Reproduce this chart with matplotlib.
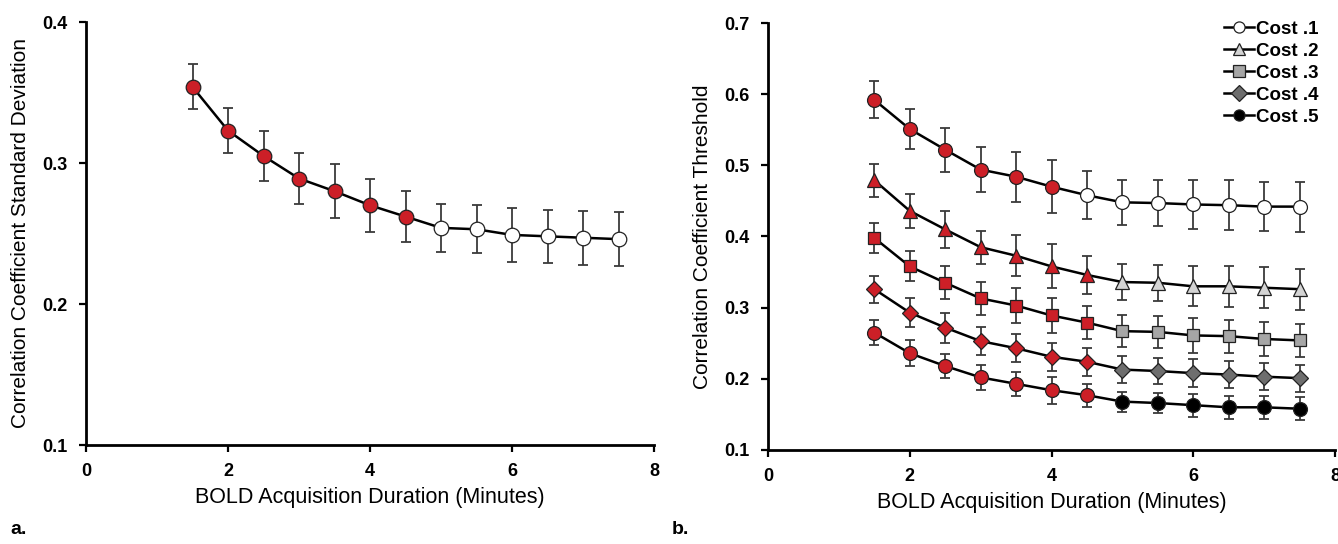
import numpy as np
import matplotlib
matplotlib.use("Agg")
import matplotlib.pyplot as plt
from matplotlib.lines import Line2D

plt.rcParams['font.family'] = ['Liberation Sans', 'DejaVu Sans']

# BOLD acquisition duration (minutes)
minutes = [1.5, 2, 2.5, 3, 3.5, 4, 4.5, 5, 5.5, 6, 6.5, 7, 7.5]

# panel a: standard deviation of correlation coefficient
sd_mean = [0.354, 0.323, 0.305, 0.289, 0.280, 0.270, 0.262, 0.254, 0.253, 0.249, 0.248, 0.247, 0.246]
sd_err = [0.016, 0.016, 0.018, 0.018, 0.019, 0.019, 0.018, 0.017, 0.017, 0.019, 0.019, 0.019, 0.019]
sd_nred = 7

# panel b: correlation coefficient threshold per cost
cost_names = ['Cost .1', 'Cost .2', 'Cost .3', 'Cost .4', 'Cost .5']
cost1 = [0.592, 0.551, 0.522, 0.494, 0.484, 0.470, 0.458, 0.448, 0.447, 0.445, 0.444, 0.442, 0.442]
cost1_err = [0.026, 0.028, 0.031, 0.032, 0.035, 0.037, 0.034, 0.032, 0.032, 0.034, 0.035, 0.034, 0.035]
cost2 = [0.479, 0.436, 0.410, 0.385, 0.373, 0.358, 0.346, 0.336, 0.335, 0.330, 0.330, 0.328, 0.326]
cost2_err = [0.023, 0.024, 0.026, 0.023, 0.029, 0.031, 0.027, 0.025, 0.025, 0.028, 0.029, 0.029, 0.029]
cost3 = [0.398, 0.358, 0.335, 0.313, 0.303, 0.289, 0.279, 0.267, 0.266, 0.261, 0.260, 0.256, 0.254]
cost3_err = [0.021, 0.021, 0.023, 0.023, 0.025, 0.025, 0.023, 0.022, 0.022, 0.024, 0.023, 0.024, 0.023]
cost4 = [0.326, 0.293, 0.272, 0.253, 0.243, 0.231, 0.224, 0.213, 0.211, 0.208, 0.206, 0.203, 0.201]
cost4_err = [0.019, 0.020, 0.021, 0.020, 0.020, 0.020, 0.020, 0.019, 0.018, 0.020, 0.019, 0.019, 0.019]
cost5 = [0.265, 0.236, 0.218, 0.202, 0.193, 0.184, 0.177, 0.168, 0.166, 0.163, 0.160, 0.160, 0.158]
cost5_err = [0.017, 0.018, 0.017, 0.017, 0.017, 0.019, 0.016, 0.014, 0.014, 0.016, 0.016, 0.016, 0.016]
cost_means = [cost1, cost2, cost3, cost4, cost5]
cost_errs = [cost1_err, cost2_err, cost3_err, cost4_err, cost5_err]
cost_nred = [6, 7, 7, 7, 7]

cost_markers = ['o', '^', 's', 'D', 'o']
cost_faces = ['white', '#d4d4d4', '#a6a6a6', '#6e6e6e', 'black']
cost_msize = [10, 10, 9, 8, 10]
red = '#cc1f27'

fig = plt.figure(figsize=(13.38, 5.44), dpi=100)
ax1 = fig.add_axes([86 / 1338, 1 - 445 / 544, (654 - 86) / 1338, (445 - 22) / 544])
ax2 = fig.add_axes([768 / 1338, 1 - 450 / 544, (1335 - 768) / 1338, (450 - 23) / 544])


def draw_series(ax, y, err, nred, marker, face, ms):
    x = np.array(minutes)
    y = np.array(y)
    ax.errorbar(x, y, yerr=err, fmt='none', ecolor='#3a3a3a', elinewidth=1.3,
                capsize=3.5, capthick=1.3, zorder=2)
    ax.plot(x, y, color='black', lw=1.8, zorder=3)
    ax.plot(x[:nred], y[:nred], ls='none', marker=marker, ms=ms, mfc=red,
            mec='#222222', mew=0.9, zorder=4)
    ax.plot(x[nred:], y[nred:], ls='none', marker=marker, ms=ms, mfc=face,
            mec='#222222', mew=0.9, zorder=4)


draw_series(ax1, sd_mean, sd_err, sd_nred, 'o', 'white', 10.5)
for i in range(len(cost_names)):
    draw_series(ax2, cost_means[i], cost_errs[i], cost_nred[i], cost_markers[i],
                cost_faces[i], cost_msize[i])

for ax in (ax1, ax2):
    ax.set_xlim(0, 8)
    ax.set_xticks([0, 2, 4, 6, 8])
    for s in ('top', 'right'):
        ax.spines[s].set_visible(False)
    for s in ('left', 'bottom'):
        ax.spines[s].set_linewidth(2)
    ax.tick_params(direction='out', length=5, width=1.6, labelsize=13, pad=8)
    for lab in ax.get_xticklabels() + ax.get_yticklabels():
        lab.set_fontweight('bold')
    ax.set_xlabel('BOLD Acquisition Duration (Minutes)', fontsize=15.5, labelpad=5)

ax1.set_ylim(0.1, 0.4)
ax1.set_yticks([0.1, 0.2, 0.3, 0.4])
ax1.set_ylabel('Correlation Coefficient Standard Deviation', fontsize=15, labelpad=9)

ax2.set_ylim(0.1, 0.7)
ax2.set_yticks([0.1, 0.2, 0.3, 0.4, 0.5, 0.6, 0.7])
ax2.set_ylabel('Correlation Coefficient Threshold', fontsize=15, labelpad=9)

handles = [Line2D([], [], color='black', lw=1.8, marker=cost_markers[i], ms=8,
                  mfc=cost_faces[i], mec='#222222', mew=0.9) for i in range(len(cost_names))]
leg = ax2.legend(handles, cost_names, loc='upper right', bbox_to_anchor=(1.0, 1.045),
                 frameon=False, handlelength=1.6, handletextpad=0.1, labelspacing=0.26,
                 prop={'weight': 'bold', 'size': 13.5})

fig.text(10 / 1338, 1 - 530 / 544, 'a.', fontsize=14, fontweight='bold', va='center')
fig.text(672 / 1338, 1 - 530 / 544, 'b.', fontsize=14, fontweight='bold', va='center')

fig.savefig('out.png', dpi=100)
